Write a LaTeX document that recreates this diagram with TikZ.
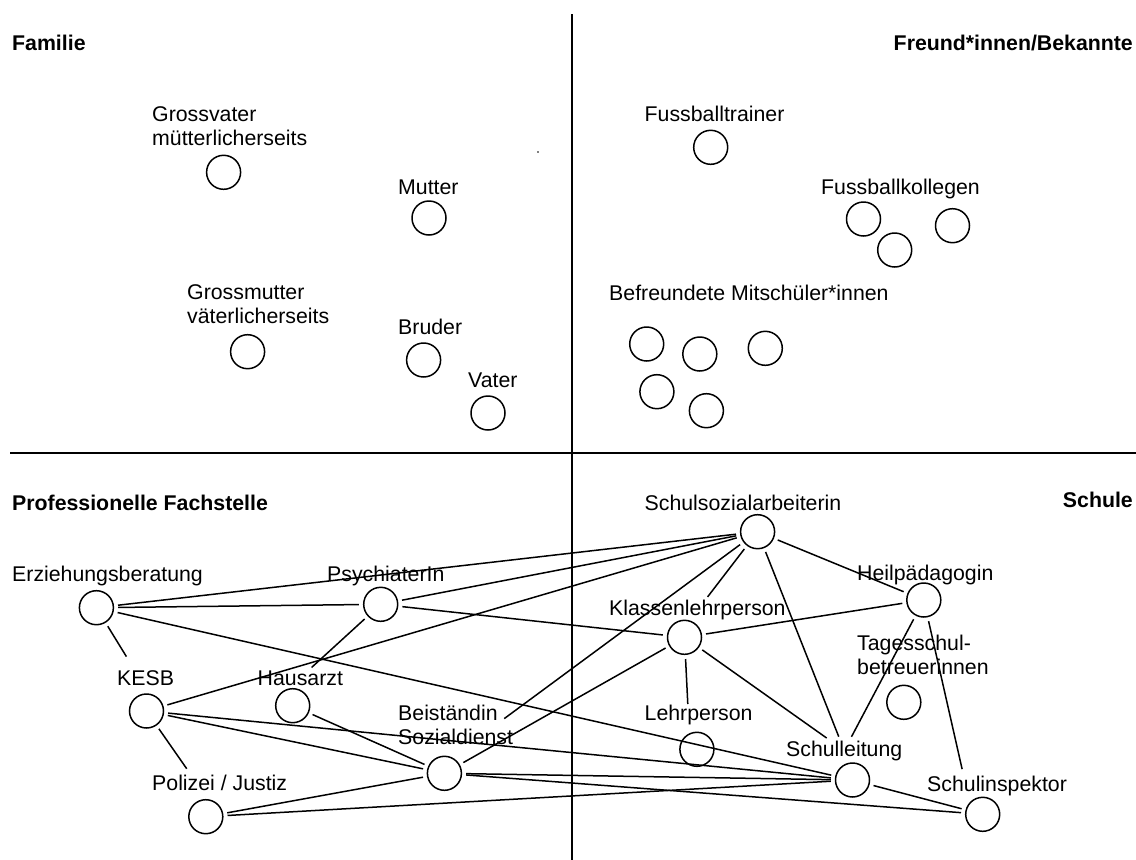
\documentclass[tikz,border=0pt]{standalone}
\usepackage{fontspec}
\setmainfont{Liberation Sans}
\tikzset{
  person/.style={circle, draw, line width=1.5pt, minimum size=34pt, inner sep=0pt},
  lbl/.style={anchor=base west, inner sep=0pt, align=left, font=\fontsize{21.3}{23.4}\selectfont},
  head/.style={inner sep=0pt, font=\fontsize{21.3}{23.4}\selectfont\bfseries},
  link/.style={line width=1.5pt, shorten <=4pt, shorten >=4pt},
  axis/.style={line width=2pt}
}

\begin{document}
\begin{tikzpicture}[x=1pt, y=-1pt]
\useasboundingbox (0,0) rectangle (1136,860);
% quadrants
\draw[axis] (572,14) -- (572,860);
\draw[axis] (10,453) -- (1136,453);
\node[head, anchor=base west] (famH) at (12,50.5) {Familie};
\node[head, anchor=base east] (frdH) at (1133,50.5) {Freund*innen/Bekannte};
\node[head, anchor=base west] (proH) at (12,510.5) {Professionelle Fachstelle};
\node[head, anchor=base east] (schH) at (1133,507.5) {Schule};

% family (two-line labels sit on their last line)
\node[lbl] (gvL) at (152,145) {Grossvater\\mütterlicherseits};
\node[person] (gv) at (223.6,172.3) {};
\node[lbl] (muL) at (398,194.3) {Mutter};
\node[person] (mu) at (429,218) {};
\node[lbl] (gmL) at (187,323.3) {Grossmutter\\väterlicherseits};
\node[person] (gm) at (247.6,351.7) {};
\node[lbl] (brL) at (398,334.3) {Bruder};
\node[person] (br) at (423.6,360) {};
\node[lbl] (vaL) at (468,387.7) {Vater};
\node[person] (va) at (488,413) {};
\fill (538,152) circle (0.8pt);

% friends
\node[lbl] (ftL) at (644.5,121) {Fussballtrainer};
\node[person] (ft) at (710.7,147.3) {};
\node[lbl] (fkL) at (821,194.3) {Fussballkollegen};
\foreach \n/\x/\y in {1/863.5/219, 2/894.7/250, 3/952.5/225.7}
  \node[person] (fk\n) at (\x,\y) {};
\node[lbl] (msL) at (609,300) {Befreundete Mitschüler*innen};
\foreach \n/\x/\y in {1/646.7/344, 2/699.8/354, 3/765.3/348.3, 4/656.9/391.7, 5/706.4/410.7}
  \node[person] (ms\n) at (\x,\y) {};

% professionals
\node[lbl] (erzL) at (12,581) {Erziehungsberatung};
\node[person] (erz) at (96.4,607.7) {};
\node[lbl] (psyL) at (327,581) {PsychiaterIn};
\node[person] (psy) at (380.7,604.3) {};
\node[lbl] (kesbL) at (117,685) {KESB};
\node[person] (kesb) at (146.5,711) {};
\node[lbl] (haL) at (257.5,685) {Hausarzt};
\node[person] (ha) at (292.7,705.7) {};
\node[lbl] (bstL) at (398,744) {Beiständin\\Sozialdienst};
\node[person] (bst) at (444.4,773.3) {};
\node[lbl] (polL) at (152,790.7) {Polizei / Justiz};
\node[person] (pol) at (205.8,816.7) {};

% school
\node[lbl] (ssaL) at (644.5,510.7) {Schulsozialarbeiterin};
\node[person] (ssa) at (757.6,531.7) {};
\node[lbl] (heilL) at (857,580.7) {Heilpädagogin};
\node[person] (heil) at (923.8,600) {};
\node[lbl] (klpL) at (609,615.7) {Klassenlehrperson};
\node[person] (klp) at (684.5,637.3) {};
\node[lbl] (tsbL) at (857,674.3) {Tagesschul-\\betreuerinnen};
\node[person] (tsb) at (903.8,702.3) {};
\node[lbl] (lpL) at (644.5,720.7) {Lehrperson};
\node[person] (lp) at (696.9,749.3) {};
\node[lbl] (slL) at (786,756) {Schulleitung};
\node[person] (sl) at (852.5,780) {};
\node[lbl] (siL) at (927,791) {Schulinspektor};
\node[person] (si) at (982.7,814.3) {};

% loose ends at the labels
\coordinate (kesbTop) at (128.5,660);
\coordinate (polTop) at (189,772);
\coordinate (bstEnd) at (501,721);
\coordinate (lpTop) at (688,708);
\coordinate (siTop) at (963,773);

% connections
\foreach \a/\b in {erz/psy, erz/ssa, erz/kesbTop, erz/sl, psy/ssa, psy/klp, psy/haL,
    kesb/ssa, kesb/bst, kesb/sl, kesb/polTop, ha/bst, bst/klp, bstEnd/ssa, bst/sl,
    bst/si, bst/pol, pol/sl, ssa/heil, ssa/klpL, ssa/slL, heil/klp, heil/slL,
    heil/siTop, klp/lpTop, klp/slL, sl/si}
  \draw[link] (\a) -- (\b);
\end{tikzpicture}
\end{document}
